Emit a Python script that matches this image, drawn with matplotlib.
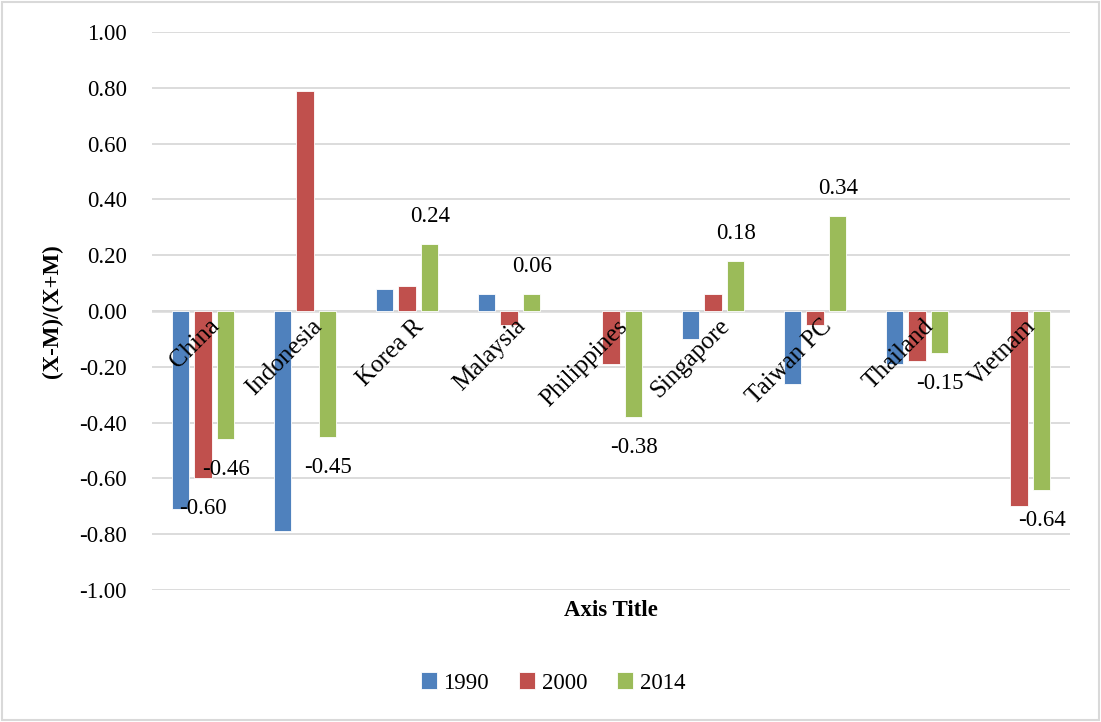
import numpy as np
import matplotlib
matplotlib.use("Agg")
import matplotlib.pyplot as plt
from matplotlib.patches import Rectangle

# export/import balance index per economy
countries = ["China", "Indonesia", "Korea R", "Malaysia", "Philippines",
             "Singapore", "Taiwan PC", "Thailand", "Vietnam"]
years = ["1990", "2000", "2014"]
v1990 = [-0.71, -0.79, 0.08, 0.06, np.nan, -0.10, -0.26, -0.19, np.nan]
v2000 = [-0.60, 0.79, 0.09, -0.05, -0.19, 0.06, -0.05, -0.18, -0.70]
v2014 = [-0.46, -0.45, 0.24, 0.06, -0.38, 0.18, 0.34, -0.15, -0.64]
yticks = [-1.0, -0.8, -0.6, -0.4, -0.2, 0.0, 0.2, 0.4, 0.6, 0.8, 1.0]
colors = ["#4F81BD", "#C0504D", "#9BBB59"]

plt.rcParams['font.family'] = ['Liberation Serif', 'DejaVu Serif']
FS = 16.5

fig = plt.figure(figsize=(11.01, 7.22), dpi=100)
ax = fig.add_axes([152 / 1101, 1 - 590 / 722, (1070 - 152) / 1101, (590 - 32) / 722])

x = np.arange(len(countries))
width = 0.173
step = 0.222
bars = []
for i, (vals, c, lab) in enumerate(zip([v1990, v2000, v2014], colors, years)):
    b = ax.bar(x + (i - 1) * step, vals, width, color=c, label=lab,
               edgecolor="white", linewidth=0.6, zorder=3)
    bars.append(b)

ax.set_xlim(-0.5, len(countries) - 0.5)
ax.set_ylim(-1.0, 1.0)
ax.set_yticks(yticks)
ax.set_yticklabels([f"{t:.2f}" for t in yticks], fontsize=FS)
ax.set_xticks([])
ax.tick_params(axis="y", length=0, pad=18)
for s in ax.spines.values():
    s.set_visible(False)
ax.grid(axis="y", color="#D9D9D9", linewidth=1.3, zorder=0)
ax.axhline(0, color="#D9D9D9", linewidth=1.8, zorder=2)

# data labels: every 2014 bar, plus China 2000
def label_bar(xpos, val):
    off = 20 if val > 0 else -22
    ax.annotate(f"{val:.2f}", (xpos, val), xytext=(0, off),
                textcoords="offset points", ha="center", va="center",
                fontsize=FS, zorder=5)

for xi, v in zip(x, v2014):
    label_bar(xi + step, v)
label_bar(x[0], v2000[0])

# category names sit rotated just under the zero line
for xi, name in zip(x, countries):
    ax.annotate(name, (xi, 0), xytext=(4, -3), textcoords="offset points",
                rotation=45, rotation_mode="anchor", ha="right", va="top",
                fontsize=18, zorder=6)

ax.set_ylabel("(X-M)/(X+M)", fontsize=FS, fontweight="bold", labelpad=12)
fig.text((152 + 1070) / 2 / 1101, 1 - 611 / 722, "Axis Title", ha="center",
         va="center", fontsize=FS, fontweight="bold")

fig.legend(handles=bars, labels=years, loc="center", ncol=3,
           bbox_to_anchor=(553 / 1101, 1 - 683 / 722), frameon=False,
           fontsize=FS, handlelength=0.7, handleheight=0.7,
           columnspacing=1.3, handletextpad=0.3)

fig.patches.append(Rectangle((2 / 1101, 2 / 722), 1 - 4 / 1101, 1 - 4 / 722,
                             transform=fig.transFigure, fill=False,
                             edgecolor="#D9D9D9", linewidth=1.5))

fig.savefig("out.png", dpi=100)
